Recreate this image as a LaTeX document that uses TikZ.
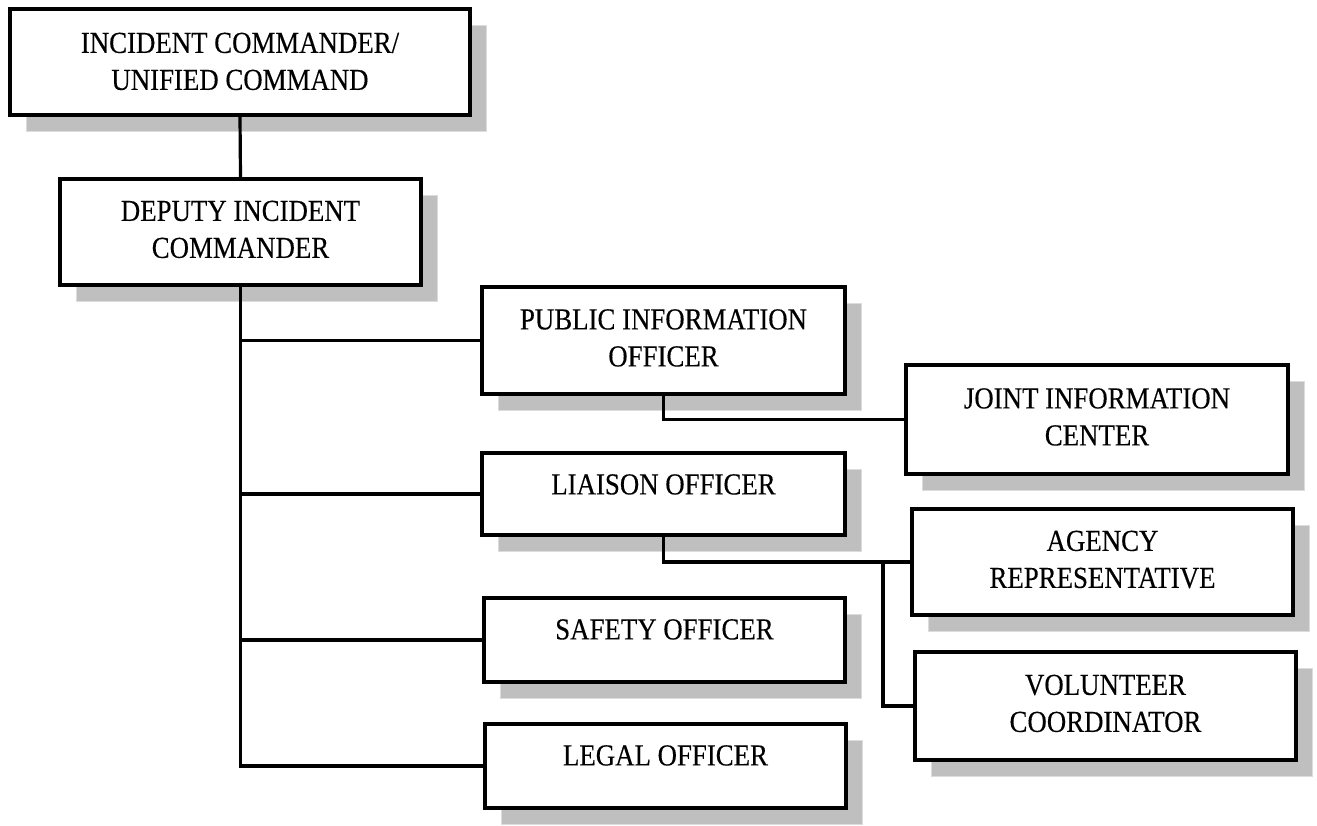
\documentclass[tikz,border=0pt]{standalone}
\usepackage{fontspec}
\setmainfont{Liberation Serif}[FakeStretch=0.88, FakeBold=0.3]
\usetikzlibrary{shadows}
\definecolor{shadowfill}{RGB}{191,191,191}
\definecolor{shadowedge}{RGB}{220,220,220}
\newcommand\boxtext[2]{\raisebox{#1}[\height][\depth]{\begin{tabular}{@{}c@{}}#2\end{tabular}}}
\begin{document}
\begin{tikzpicture}[x=1pt,y=-1pt,
  orgbox/.style={draw=black, line width=3.5pt, fill=white, inner sep=0pt,
    font=\fontsize{30.5}{37}\selectfont,
    general shadow={fill=shadowfill, draw=shadowedge, line width=1pt,
      shadow xshift=16pt, shadow yshift=-16pt}},
  link/.style={line width=3.2pt, line join=miter, line cap=rect}]
\useasboundingbox (0,0) rectangle (1317,825);

\node[orgbox, minimum width=460pt, minimum height=106pt] (ic) at (240,62)
  {\boxtext{-2pt}{INCIDENT COMMANDER/\\UNIFIED COMMAND}};
\node[orgbox, minimum width=361pt, minimum height=106pt] (dep) at (240.5,232)
  {\boxtext{0pt}{DEPUTY INCIDENT\\COMMANDER}};
\node[orgbox, minimum width=363pt, minimum height=107pt] (pio) at (663.5,340.5)
  {\boxtext{0pt}{PUBLIC INFORMATION\\OFFICER}};
\node[orgbox, minimum width=382pt, minimum height=109pt] (jic) at (1097,419.5)
  {\boxtext{0pt}{JOINT INFORMATION\\CENTER}};
\node[orgbox, minimum width=363pt, minimum height=82pt] (liaison) at (663.5,494)
  {\boxtext{7pt}{LIAISON OFFICER}};
\node[orgbox, minimum width=381pt, minimum height=106pt] (agency) at (1102.5,562)
  {\boxtext{0pt}{AGENCY\\REPRESENTATIVE}};
\node[orgbox, minimum width=361pt, minimum height=84pt] (safety) at (664.5,640)
  {\boxtext{8pt}{SAFETY OFFICER}};
\node[orgbox, minimum width=381pt, minimum height=108pt] (vol) at (1105.5,706)
  {\boxtext{0pt}{VOLUNTEER\\COORDINATOR}};
\node[orgbox, minimum width=361pt, minimum height=84pt] (legal) at (665.5,766)
  {\boxtext{8pt}{LEGAL OFFICER}};

\draw[link] (ic.south) -- (dep.north);
\draw[link] (dep.south) |- (legal.west);
\draw[link] (dep.south |- pio.west) -- (pio.west);
\draw[link] (dep.south |- liaison.west) -- (liaison.west);
\draw[link] (dep.south |- safety.west) -- (safety.west);
\draw[link] (pio.south) |- (jic.west);
\draw[link] (liaison.south) |- (agency.west);
\coordinate (br) at (883,562);
\draw[link] (br) |- (vol.west);
\end{tikzpicture}
\end{document}
